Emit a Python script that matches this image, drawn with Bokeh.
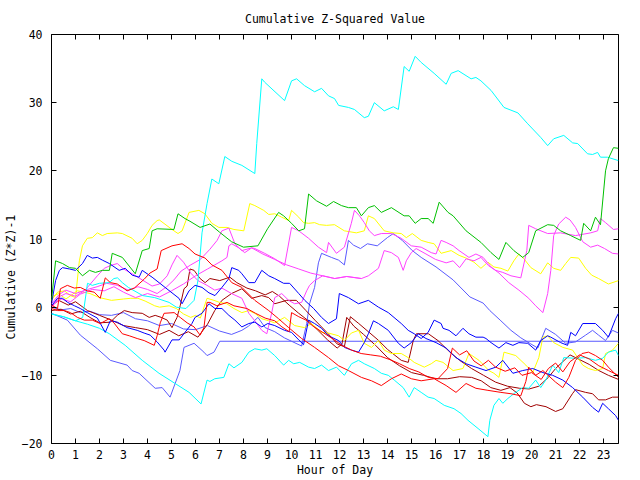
from bokeh.plotting import figure
from bokeh.models import LinearAxis, FixedTicker, Range1d, CustomJSTickFormatter
from bokeh.embed import file_html
from bokeh.resources import INLINE

# ---- data: (hour, cumulative value) ----
cyan_a = [(0,-1.0),(0.5,-1.4),(1.0,-2.0),(1.3,-1.5),(1.5,3.5),(1.7,3.2),(2.0,3.5),(2.4,3.6),(2.6,4.2),(2.75,4.3),(2.95,3.6),(3.2,2.9),(3.8,1.7),(4.3,1.4),(4.9,0.7),(5.2,0.0),(5.6,-0.2),(5.94,1.0),(6.1,3.9),(6.27,10.9),(6.48,15.2),(6.68,18.8),(6.97,18.1),(7.22,22.1),(7.51,21.4),(7.93,20.8),(8.47,19.6),(8.55,24.0),(8.76,33.5),(8.88,33.0),(9.71,30.3),(10.0,33.2),(10.21,33.5),(10.54,32.5),(10.96,31.6),(11.25,32.1),(11.54,31.0),(11.79,30.6),(11.96,29.6),(12.37,29.3),(12.62,29.0),(13.03,27.8),(13.2,28.0),(13.45,30.0),(13.86,28.8),(14.24,29.4),(14.45,29.0),(14.69,35.3),(14.9,34.6),(15.15,36.8),(15.4,35.9),(15.94,34.3),(16.44,32.7),(16.65,34.3),(16.94,34.7),(17.48,33.5),(17.68,33.7),(17.89,33.2),(18.31,31.8),(18.85,29.3),(19.43,28.5),(19.84,26.9),(20.38,24.9),(20.67,23.7),(20.92,24.7),(21.34,25.2),(21.71,24.1),(21.92,24.0),(22.33,22.5),(22.54,22.4),(22.75,22.7),(22.87,22.0),(23.16,22.0),(23.62,21.5)]
cyan_b = [(0,-1.0),(0.5,-1.4),(1.0,-2.0),(1.5,-2.5),(2.0,-3.1),(2.41,-3.9),(3.07,-5.6),(3.78,-7.8),(4.48,-9.7),(5.15,-11.2),(5.73,-12.5),(6.23,-14.2),(6.48,-10.7),(6.6,-10.9),(6.8,-10.5),(7.18,-10.3),(7.39,-8.3),(7.6,-8.9),(7.93,-8.1),(8.22,-6.6),(8.47,-6.1),(8.76,-6.3),(8.97,-6.1),(9.3,-7.1),(9.67,-8.5),(9.88,-7.8),(10.09,-8.3),(10.34,-8.1),(10.71,-8.8),(10.96,-9.0),(11.25,-8.5),(11.54,-9.3),(11.87,-8.8),(12.2,-10.0),(12.5,-8.3),(12.79,-7.8),(13.03,-8.3),(13.45,-9.0),(13.74,-9.7),(14.03,-10.0),(14.28,-10.7),(14.65,-11.8),(14.9,-13.2),(15.11,-11.8),(15.4,-12.5),(15.69,-13.2),(15.94,-13.4),(16.36,-14.4),(16.77,-14.9),(17.06,-15.6),(17.35,-16.6),(17.77,-17.8),(18.18,-19.0),(18.26,-16.6),(18.43,-14.4),(18.64,-13.4),(18.8,-14.1),(19.01,-13.4),(19.26,-12.7),(19.63,-11.8),(19.88,-11.9),(20.17,-10.7),(20.38,-11.8),(20.59,-10.7),(20.88,-8.5),(21.13,-9.6),(21.34,-7.4),(21.83,-7.5),(22.25,-7.4),(22.66,-7.8),(22.96,-7.5),(23.2,-6.6),(23.5,-6.3),(23.62,-7.1)]
green = [(0,1.0),(0.17,6.8),(0.46,6.4),(0.75,5.8),(1.0,5.7),(1.29,4.6),(1.58,5.4),(1.83,5.1),(2.12,5.4),(2.41,5.4),(2.53,7.9),(2.95,7.3),(3.49,4.9),(3.78,8.3),(4.07,8.6),(4.19,11.2),(4.4,11.5),(5.1,11.4),(5.27,13.7),(5.56,13.0),(5.77,12.6),(6.19,11.7),(6.6,12.2),(7.0,11.0),(7.5,9.6),(8.0,8.8),(8.6,9.0),(9.0,11.5),(9.46,13.9),(9.67,13.4),(10.0,12.3),(10.3,11.2),(10.54,11.5),(10.71,16.6),(11.04,15.6),(11.46,14.8),(11.75,15.5),(12.08,14.9),(12.37,14.6),(12.7,14.6),(12.91,13.4),(13.2,14.6),(13.45,14.9),(13.74,13.9),(14.16,14.6),(14.69,13.4),(14.9,13.4),(15.15,12.3),(15.4,13.0),(15.69,13.0),(15.9,12.3),(16.15,15.4),(16.52,13.9),(16.73,13.4),(17.27,11.2),(17.89,9.5),(18.31,8.0),(18.64,7.0),(18.93,9.5),(19.26,8.3),(19.63,7.3),(19.88,8.0),(20.17,11.2),(20.67,12.1),(20.92,12.0),(21.21,11.2),(21.63,10.5),(22.04,9.8),(22.17,12.3),(22.46,11.2),(22.66,13.2),(22.87,12.1),(23.08,20.0),(23.2,21.8),(23.41,23.4),(23.62,23.3)]
yellow_a = [(0,1.0),(0.25,2.2),(0.54,2.4),(0.79,1.7),(1.0,1.4),(1.16,6.8),(1.29,9.0),(1.49,10.1),(1.7,10.2),(1.91,10.9),(2.12,10.5),(2.32,10.8),(2.74,10.9),(2.95,10.8),(3.36,10.1),(3.57,9.3),(3.78,9.8),(3.99,10.8),(4.19,12.0),(4.4,12.7),(4.49,12.8),(5.02,11.4),(5.27,10.8),(5.44,11.2),(5.73,13.9),(6.14,14.2),(6.39,13.7),(6.68,12.3),(6.97,11.7),(7.31,11.7),(7.6,11.4),(8.01,11.2),(8.26,15.2),(8.47,14.9),(8.84,14.2),(9.05,13.6),(9.3,13.7),(9.59,13.2),(9.88,12.7),(10.0,14.2),(10.3,13.2),(10.5,12.4),(10.71,12.3),(10.96,12.4),(11.17,12.1),(11.46,12.0),(11.79,12.1),(12.2,11.2),(12.7,10.9),(13.03,11.2),(13.2,13.4),(13.45,13.0),(13.86,11.2),(14.24,10.9),(14.57,10.8),(14.78,10.2),(15.03,10.8),(15.4,9.8),(15.69,9.5),(15.94,9.3),(16.23,7.9),(16.65,8.3),(16.98,7.6),(17.27,7.2),(17.6,6.6),(17.89,5.7),(18.18,6.6),(18.43,5.9),(18.72,5.7),(19.01,5.3),(19.26,6.8),(19.47,7.8),(19.68,7.1),(19.97,5.8),(20.38,4.9),(20.67,6.5),(20.92,5.7),(21.21,5.4),(21.42,6.4),(21.63,7.3),(21.96,7.2),(22.25,5.7),(22.5,4.7),(22.79,4.2),(23.2,3.4),(23.62,3.9)]
yellow_b = [(0,1.5),(0.3,2.0),(0.6,1.2),(1.08,2.4),(1.6,2.0),(2.0,1.4),(2.5,1.0),(3.0,1.2),(3.3,1.3),(3.6,1.3),(3.9,0.9),(4.3,0.2),(4.5,0.0),(4.9,0.2),(5.2,-0.2),(5.5,-1.0),(5.8,-1.5),(6.0,-1.2),(6.2,-1.6),(6.48,1.3),(6.77,1.0),(7.0,0.7),(7.3,0.5),(7.6,-0.2),(7.93,-0.8),(8.22,-0.5),(8.47,-0.9),(8.76,-1.7),(9.05,-2.0),(9.3,-2.3),(9.71,-1.5),(10.13,-2.7),(10.54,-3.0),(10.83,-2.4),(11.25,-3.7),(11.54,-3.8),(11.96,-4.2),(12.2,-4.9),(12.49,-3.8),(12.79,-3.4),(13.03,-5.3),(13.33,-5.9),(13.62,-4.9),(13.86,-6.3),(14.16,-6.8),(14.57,-6.8),(14.86,-7.4),(15.11,-8.1),(15.53,-8.8),(15.82,-8.3),(16.02,-7.8),(16.31,-8.1),(16.73,-9.3),(17.14,-9.0),(17.39,-6.8),(17.81,-7.8),(18.22,-9.3),(18.43,-9.7),(18.64,-10.3),(18.85,-6.6),(19.34,-7.1),(19.76,-8.5),(20.05,-9.6),(20.3,-7.4),(20.47,-4.4),(20.67,-4.2),(20.92,-5.2),(21.3,-5.9),(21.71,-6.3),(22.13,-8.5),(22.37,-9.0),(22.66,-9.3),(22.96,-9.0),(23.08,-6.8),(23.37,-6.3),(23.62,-5.3)]
magenta_a = [(0,0.5),(0.3,1.8),(0.6,2.5),(1.0,2.0),(1.5,2.6),(1.9,3.0),(2.3,3.5),(2.74,3.2),(3.2,2.5),(3.6,3.0),(4.0,2.6),(4.4,2.0),(4.8,3.0),(5.1,4.0),(5.4,5.3),(5.8,6.2),(6.2,7.0),(6.6,8.5),(6.9,9.8),(7.1,11.2),(7.39,11.6),(7.64,9.3),(7.93,8.3),(8.34,8.7),(8.47,8.6),(8.88,7.9),(9.3,7.1),(9.71,6.1),(10.0,11.7),(10.3,11.2),(10.71,10.1),(11.12,8.8),(11.46,8.0),(11.54,9.5),(11.87,7.9),(12.2,8.8),(12.49,12.3),(12.62,14.2),(12.83,13.4),(13.03,12.4),(13.24,11.2),(13.45,10.5),(13.74,10.8),(14.16,10.8),(14.57,10.1),(14.99,9.0),(15.4,8.8),(15.82,8.0),(16.02,7.8),(16.23,9.8),(16.44,9.5),(16.73,9.0),(16.98,8.3),(17.39,7.3),(17.68,7.8),(17.98,7.3),(18.31,5.9),(18.64,5.0),(19.05,3.6),(19.47,2.5),(19.88,1.3),(20.17,0.2),(20.47,-0.8),(20.67,2.0),(20.8,5.4),(20.92,10.5),(21.13,12.2),(21.42,13.2),(21.6,12.8),(21.83,11.7),(22.13,9.6),(22.46,8.8),(22.75,9.1),(23.04,8.6),(23.37,7.9),(23.62,7.8)]
magenta_b = [(0,0.3),(0.4,1.2),(0.8,0.8),(1.2,1.9),(1.7,2.6),(2.2,2.4),(2.6,3.0),(3.0,2.2),(3.5,1.4),(4.0,2.0),(4.5,1.5),(5.0,2.4),(5.5,3.4),(6.0,4.6),(6.5,5.6),(6.8,6.2),(7.1,6.8),(7.31,7.3),(7.39,9.0),(7.51,9.3),(7.8,8.7),(8.05,8.0),(8.34,8.7),(8.8,7.8),(9.3,7.0),(9.8,6.2),(10.3,5.6),(10.8,5.0),(11.3,4.6),(11.8,4.2),(12.3,4.5),(12.91,4.2),(13.2,4.6),(13.62,5.7),(13.86,8.3),(14.16,8.0),(14.45,7.3),(14.65,5.4),(14.78,6.8),(14.99,8.0),(15.19,8.6),(15.6,7.8),(16.0,7.0),(16.44,6.5),(16.73,6.8),(17.0,5.8),(17.27,7.1),(17.6,6.8),(17.89,7.3),(18.2,6.1),(18.5,5.4),(18.8,5.1),(19.14,4.6),(19.55,4.3),(19.8,8.3),(19.88,12.0),(20.17,11.5),(20.67,10.8),(21.21,10.9),(21.83,10.5),(22.46,10.9),(22.75,11.2),(22.87,13.0),(23.08,12.4),(23.41,11.4),(23.62,11.5)]
magenta_c = [(0,-0.2),(0.3,1.5),(0.6,2.0),(1.0,1.6),(1.4,2.5),(1.91,4.6),(2.2,5.7),(2.45,6.1),(2.74,6.4),(3.0,5.6),(3.36,4.9),(3.78,4.0),(4.19,3.1),(4.5,3.4),(4.82,4.6),(5.02,6.2),(5.23,7.6),(5.5,6.6),(5.8,5.0),(6.1,3.9),(6.48,3.2),(6.8,2.5),(7.1,2.8),(7.5,2.0),(7.93,1.3),(8.22,-0.9),(8.47,-2.0),(8.76,-3.4),(8.97,-3.9),(9.17,-0.9),(9.3,1.4),(9.59,2.0),(9.88,1.0),(10.13,0.5),(10.42,0.7),(10.63,2.4),(10.75,3.2),(10.96,3.9),(11.3,4.6),(11.8,4.2),(12.3,4.5),(12.91,4.2)]
red_a = [(0,0.3),(0.25,-0.2),(0.37,2.7),(0.66,3.2),(0.95,2.8),(1.2,2.9),(1.49,2.4),(1.78,2.2),(2.03,1.3),(2.24,4.3),(2.45,3.6),(2.74,3.4),(3.03,2.7),(3.15,2.4),(3.45,2.8),(3.86,4.1),(4.1,5.0),(4.4,5.6),(4.57,8.3),(5.02,9.0),(5.44,9.3),(5.73,8.6),(5.98,7.8),(6.4,7.2),(6.68,6.2),(7.1,5.4),(7.51,3.6),(7.93,2.9),(8.47,1.0),(9.05,-0.5),(9.46,-1.7),(9.88,-3.0),(10.42,-4.6),(10.96,-5.9),(11.54,-7.4),(11.96,-8.6),(12.37,-9.3),(12.91,-10.3),(13.33,-10.8),(13.74,-11.5),(14.16,-10.5),(14.57,-9.8),(14.99,-10.5),(15.4,-10.8),(15.94,-10.5),(16.44,-11.5),(16.85,-12.5),(17.27,-11.2),(17.68,-11.9),(18.18,-12.2),(18.72,-12.5),(19.14,-12.7),(19.55,-13.0),(19.76,-10.9),(19.88,-8.8),(20.17,-10.0),(20.47,-9.3),(21.0,-11.0),(21.3,-11.8),(21.55,-10.3),(21.83,-7.8),(22.1,-6.8),(22.37,-6.6),(22.66,-7.1),(22.96,-7.8),(23.2,-8.8),(23.62,-10.3)]
red_b = [(0,-0.2),(0.25,-0.5),(0.54,-0.5),(0.79,-0.8),(1.08,-1.5),(1.37,-1.9),(1.7,-1.9),(2.03,-2.4),(2.4,-1.7),(2.6,-2.3),(2.95,-3.9),(3.24,-4.2),(3.57,-4.6),(3.86,-4.9),(4.28,-5.6),(4.4,-4.2),(4.53,-2.3),(4.69,-0.9),(5.11,-0.8),(5.36,-1.5),(5.65,-2.3),(5.94,-2.9),(6.19,-4.1),(6.35,-3.0),(6.48,0.7),(6.6,0.7),(6.89,0.2),(7.31,0.7),(7.6,0.2),(8.14,-0.2),(8.5,-0.9),(8.9,-1.6),(9.3,-2.0),(9.6,-2.9),(9.9,-3.6),(10.0,-0.8),(10.3,-1.4),(10.6,-1.9),(10.9,-2.8),(11.3,-3.7),(11.7,-4.6),(12.1,-5.6),(12.5,-6.3),(12.9,-6.8),(13.3,-7.0),(13.7,-7.2),(14.1,-7.7),(14.5,-8.3),(14.9,-9.0),(15.3,-9.5),(15.7,-10.3),(16.1,-10.5),(16.5,-9.0),(16.7,-6.0),(17.0,-7.0),(17.3,-6.4),(17.6,-7.9),(17.9,-8.6),(18.2,-7.8),(18.5,-8.8),(18.9,-9.4),(19.3,-8.9),(19.6,-10.0),(20.0,-9.6),(20.4,-10.6),(20.7,-9.0),(21.0,-8.2),(21.3,-9.5),(21.6,-8.0),(22.0,-7.0),(22.4,-7.6),(22.8,-8.6),(23.2,-9.3),(23.62,-10.0)]
darkred_a = [(0,-0.5),(0.4,-0.3),(0.8,-1.0),(1.2,-0.6),(1.6,-1.5),(2.0,-2.3),(2.45,-2.2),(2.74,-1.2),(3.03,-0.5),(3.36,-0.8),(3.78,-0.9),(4.07,-1.5),(4.32,-1.2),(4.57,-1.5),(4.82,-1.9),(5.02,-3.0),(5.23,-1.5),(5.36,0.2),(5.52,2.7),(5.65,3.1),(5.77,5.6),(5.94,5.4),(6.19,4.2),(6.4,3.6),(6.6,4.2),(7.01,3.9),(7.43,4.4),(7.72,3.6),(8.14,2.8),(8.5,2.4),(8.9,1.8),(9.2,2.3),(9.5,1.6),(9.9,0.3),(10.3,-0.9),(10.7,-2.0),(11.1,-3.4),(11.5,-4.8),(11.9,-6.0),(12.1,-5.4),(12.3,-1.5),(12.6,-2.8),(13.0,-4.0),(13.5,-5.6),(14.0,-7.4),(14.5,-8.6),(15.0,-9.6),(15.5,-10.0),(16.0,-10.5),(16.5,-10.5),(17.0,-10.2),(17.5,-10.3),(17.9,-10.8),(18.3,-11.8),(18.72,-12.2),(19.1,-11.8),(19.4,-12.6),(19.7,-14.1),(19.97,-14.6),(20.2,-14.3),(20.6,-14.6),(21.0,-15.3),(21.3,-14.9),(21.7,-12.7),(21.83,-12.1),(22.25,-12.5),(22.54,-12.7),(22.79,-13.6),(23.08,-13.6),(23.37,-13.2),(23.62,-13.2)]
darkred_b = [(0,0.2),(0.3,1.0),(0.7,0.3),(1.0,0.8),(1.5,-0.5),(2.0,-1.2),(2.5,-1.9),(3.0,-2.7),(3.5,-3.0),(4.0,-3.3),(4.5,-4.0),(4.9,-3.4),(5.3,-4.2),(5.7,-3.6),(6.1,-4.4),(6.5,-2.5),(6.8,-0.5),(7.1,1.0),(7.5,2.0),(7.93,2.7),(8.34,1.3),(8.76,1.7),(9.05,1.4),(9.3,0.5),(9.8,1.0),(10.2,1.0),(10.6,-0.5),(11.0,-2.0),(11.5,-3.8),(11.9,-5.4),(12.2,-5.8),(12.45,-1.4),(12.8,-2.4),(13.2,-3.6),(13.6,-4.8),(14.0,-6.2),(14.57,-7.8),(14.86,-8.1),(15.07,-4.9),(15.2,-3.9),(15.7,-3.9),(16.1,-4.9),(16.6,-6.6),(17.0,-7.8),(17.5,-9.0),(18.0,-10.0),(18.5,-11.0),(19.0,-11.6),(19.5,-11.9),(19.9,-12.0),(20.3,-11.6),(20.7,-10.3),(21.0,-9.0),(21.3,-8.0),(21.6,-7.0),(22.0,-7.7),(22.4,-8.4),(22.8,-9.3),(23.2,-10.0),(23.62,-10.6)]
blue_a = [(0,0.5),(0.17,3.9),(0.33,5.4),(0.46,5.8),(0.75,5.6),(1.0,5.4),(1.29,6.4),(1.49,7.6),(1.7,7.2),(1.91,7.3),(2.12,6.9),(2.41,6.4),(2.82,5.4),(3.07,5.7),(3.36,4.7),(3.65,4.4),(3.78,5.4),(4.19,4.4),(4.48,3.6),(4.73,2.9),(5.02,2.1),(5.31,1.3),(5.44,0.5),(5.73,2.4),(5.98,3.2),(6.27,2.9),(6.56,2.1),(6.81,1.7),(7.1,2.9),(7.39,4.2),(7.51,5.8),(7.8,5.4),(7.93,4.9),(8.22,3.6),(8.47,3.6),(8.76,5.4),(9.05,4.6),(9.3,4.2),(9.67,3.5),(9.92,3.5),(10.3,2.0),(10.55,1.0),(10.92,-0.2),(11.25,-1.5),(11.54,-2.4),(11.87,-1.7),(11.99,2.0),(12.37,1.4),(12.79,0.5),(13.2,1.0),(13.62,0.0),(14.03,-0.8),(14.57,-2.4),(14.86,-3.4),(15.11,-3.9),(15.4,-4.6),(15.69,-3.7),(15.94,-1.9),(16.23,-2.4),(16.31,-3.1),(16.56,-3.4),(16.85,-4.2),(16.98,-3.7),(17.14,-3.1),(17.39,-3.9),(17.68,-4.4),(17.98,-4.4),(18.1,-4.6),(18.31,-5.2),(18.64,-6.0),(18.93,-5.2),(19.22,-5.6),(19.47,-5.2),(19.84,-5.3),(20.17,-6.3),(20.38,-4.9),(20.67,-4.2),(20.8,-4.4),(21.21,-5.2),(21.5,-5.6),(21.63,-3.7),(21.83,-4.2),(22.13,-2.4),(22.66,-2.4),(22.96,-3.4),(23.2,-4.4),(23.5,-1.7),(23.62,-0.9)]
blue_b = [(0,0.2),(0.25,1.3),(0.46,1.3),(0.67,0.7),(0.96,0.2),(1.2,-0.2),(1.49,-0.8),(1.91,-1.6),(2.24,-3.7),(2.45,-2.0),(2.74,-2.2),(3.15,-3.0),(3.57,-3.4),(3.86,-3.8),(4.11,-4.1),(4.4,-5.1),(4.69,-6.3),(4.73,-6.6),(5.02,-4.8),(5.32,-4.8),(5.56,-3.7),(5.85,-2.4),(5.98,-1.5),(6.27,-0.9),(6.56,0.5),(6.81,-0.2),(7.1,-0.2),(7.39,-1.2),(7.64,-1.9),(7.93,-2.9),(8.22,-2.4),(8.47,-2.2),(8.76,-2.9),(9.01,-2.4),(9.3,-2.7),(9.71,-3.4),(10.0,-3.7),(10.3,-4.8),(10.5,-5.5),(10.71,-1.9),(10.96,-2.4),(11.25,-3.1),(11.54,-4.2),(11.96,-4.9),(12.2,-5.9),(12.5,-6.3),(12.79,-6.6),(13.03,-5.2),(13.2,-3.9),(13.41,-2.0),(13.62,-2.4),(14.03,-3.4),(14.45,-5.3),(14.69,-6.0),(14.99,-5.2),(15.28,-3.9),(15.6,-4.6),(16.02,-5.2),(16.44,-6.0),(16.85,-7.4),(17.27,-8.3),(17.68,-8.8),(18.1,-9.3),(18.51,-8.8),(18.8,-7.8),(19.22,-9.7),(19.63,-9.3),(20.05,-9.0),(20.47,-9.6),(20.88,-10.0),(21.3,-10.7),(21.71,-11.8),(22.13,-13.2),(22.54,-14.7),(22.79,-15.4),(22.96,-14.1),(23.2,-14.9),(23.5,-15.9),(23.62,-16.6)]
slate_a = [(0,-0.9),(0.66,-1.9),(1.2,-4.1),(1.91,-6.1),(2.45,-7.8),(3.15,-8.5),(3.36,-9.3),(3.65,-9.7),(4.32,-11.9),(4.61,-11.8),(4.94,-13.2),(5.35,-9.3),(5.52,-5.9),(5.94,-5.3),(6.35,-6.6),(6.48,-7.1),(6.77,-6.6),(7.01,-5.0),(23.62,-5.0)]
slate_b = [(0,0.0),(0.4,-0.4),(0.8,-0.2),(1.2,-0.8),(1.6,-0.6),(2.0,-1.1),(2.5,-1.2),(3.0,-0.8),(3.5,-1.7),(4.0,-2.0),(4.5,-2.7),(5.0,-2.4),(5.5,-3.2),(6.0,-3.3),(6.5,-2.7),(7.0,-3.5),(7.5,-4.0),(7.93,-3.4),(8.2,-2.8),(8.6,-1.5),(8.9,-3.0),(9.3,-3.6),(9.7,-4.5),(10.0,-5.0),(10.42,-5.7),(10.63,-2.4),(10.75,0.5),(10.96,2.9),(11.12,6.5),(11.25,7.9),(11.66,7.3),(11.96,6.9),(12.2,6.2),(12.37,9.8),(12.58,9.1),(12.87,8.6),(13.16,9.3),(13.57,9.0),(13.99,10.2),(14.24,10.8),(14.61,9.8),(15.03,8.3),(15.4,7.3),(16.02,5.9),(16.73,4.0),(17.43,1.5),(17.98,0.6),(18.26,-0.5),(18.72,-2.0),(19.14,-3.4),(19.55,-4.5),(19.97,-5.4),(20.26,-6.0),(20.59,-3.1),(21.0,-4.0),(21.42,-5.3),(21.83,-5.1),(22.25,-4.1),(22.54,-3.4),(22.79,-4.1),(23.08,-4.9),(23.37,-3.4),(23.62,-3.8)]

series = [
    (slate_a, "#5a5aff"), (slate_b, "#5a5aff"),
    (darkred_a, "#a00000"), (darkred_b, "#a00000"),
    (yellow_b, "#ffff00"), (yellow_a, "#ffff00"),
    (magenta_c, "#ff40ff"), (magenta_b, "#ff40ff"), (magenta_a, "#ff40ff"),
    (cyan_b, "#00ffff"), (cyan_a, "#00ffff"),
    (blue_b, "#0000ff"), (blue_a, "#0000ff"),
    (red_b, "#ff0000"), (red_a, "#ff0000"),
    (green, "#00c000"),
]

hour_ticks = list(range(0, 24))
value_ticks = [-20, -10, 0, 10, 20, 30, 40]
X_MAX = 23.62
FONT = "DejaVu Sans Mono"
FS = "11.5px"

p = figure(width=640, height=480, output_backend="svg", toolbar_location=None,
           x_range=Range1d(0, X_MAX), y_range=Range1d(-20, 40),
           min_border_left=49, min_border_right=22, min_border_top=34, min_border_bottom=37,
           x_axis_location=None, y_axis_location=None)
p.grid.visible = False
p.outline_line_color = "black"
p.outline_line_width = 1
p.background_fill_color = "white"
p.border_fill_color = "white"

p.title.text = "Cumulative Z-Squared Value"
p.title.align = "center"
p.title.text_font = FONT
p.title.text_font_size = FS
p.title.text_font_style = "normal"
p.title.text_color = "black"
p.title.standoff = 18

for data, col in series:
    xs = [d[0] for d in data]
    ys = [d[1] for d in data]
    p.line(xs, ys, line_color=col, line_width=1)

def style_axis(ax, labels=True):
    ax.axis_line_color = None
    ax.major_tick_in = 5
    ax.major_tick_out = 0
    ax.minor_tick_line_color = None
    ax.major_tick_line_color = "black"
    ax.major_label_text_font = FONT
    ax.major_label_text_font_size = FS
    ax.major_label_text_color = "black"
    ax.axis_label_text_font = FONT
    ax.axis_label_text_font_size = FS
    ax.axis_label_text_font_style = "normal"
    ax.axis_label_text_color = "black"
    if not labels:
        ax.formatter = CustomJSTickFormatter(code="return ''")
        ax.major_label_standoff = 0

bx = LinearAxis(ticker=FixedTicker(ticks=hour_ticks), axis_label="Hour of Day")
style_axis(bx)
bx.major_label_standoff = 6
bx.axis_label_standoff = 1
p.add_layout(bx, "below")
tx = LinearAxis(ticker=FixedTicker(ticks=hour_ticks))
style_axis(tx, False)
p.add_layout(tx, "above")
ly = LinearAxis(ticker=FixedTicker(ticks=value_ticks),
                axis_label="Cumulative (Z*Z)-1" + "\u00a0" * 11)
style_axis(ly)
ly.major_label_standoff = 9
ly.axis_label_standoff = 1
p.add_layout(ly, "left")
ry = LinearAxis(ticker=FixedTicker(ticks=value_ticks))
style_axis(ry, False)
p.add_layout(ry, "right")

open("out.html", "w").write(file_html(p, INLINE))
